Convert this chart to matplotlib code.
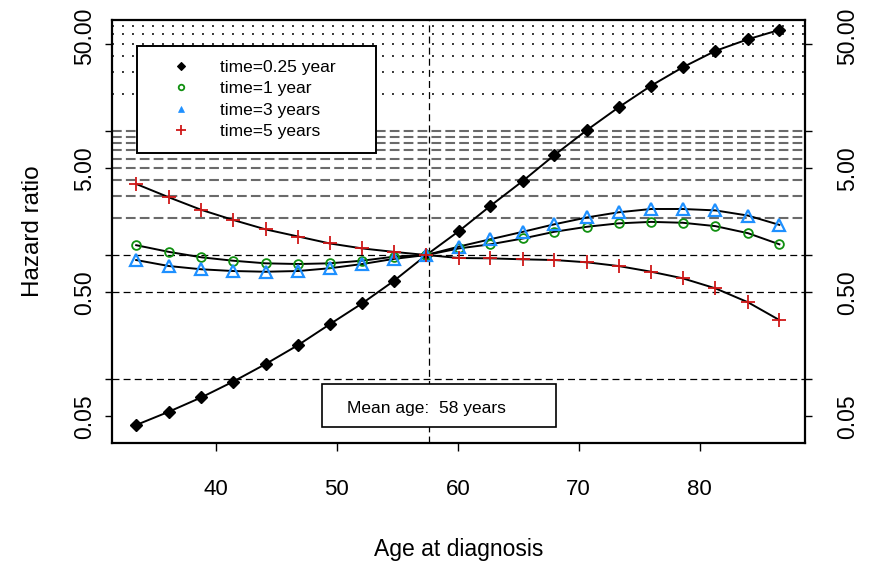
import matplotlib
matplotlib.use("Agg")
import matplotlib.pyplot as plt
from matplotlib.lines import Line2D
from matplotlib.patches import Rectangle
from matplotlib.transforms import blended_transform_factory, ScaledTranslation

plt.rcParams["font.family"] = ["Liberation Sans", "DejaVu Sans"]
plt.rcParams["lines.scale_dashes"] = False

# ── Data ───────────────────────────────────────────────────────────────────────
ages = [33.4, 36.1, 38.8, 41.4, 44.1, 46.8, 49.4, 52.1, 54.7, 57.4, 60.1,
        62.7, 65.4, 68.0, 70.7, 73.3, 76.0, 78.6, 81.3, 84.0, 86.6]

hr_025 = [0.0426, 0.0545, 0.0712, 0.0951, 0.132, 0.188, 0.276, 0.408, 0.617, 1.0,
          1.56, 2.49, 3.97, 6.40, 10.2, 15.5, 23.2, 32.6, 44.2, 54.9, 65.3]
hr_1 = [1.20, 1.06, 0.958, 0.900, 0.857, 0.846, 0.857, 0.900, 0.969, 1.0,
        1.13, 1.22, 1.36, 1.54, 1.69, 1.80, 1.85, 1.82, 1.71, 1.50, 1.22]
hr_3 = [0.911, 0.815, 0.767, 0.743, 0.733, 0.743, 0.782, 0.846, 0.93, 1.0,
        1.17, 1.34, 1.54, 1.77, 2.01, 2.21, 2.35, 2.35, 2.29, 2.08, 1.75]
hr_5 = [3.74, 2.92, 2.31, 1.92, 1.61, 1.41, 1.24, 1.13, 1.06, 1.0,
        0.946, 0.940, 0.923, 0.911, 0.873, 0.815, 0.733, 0.649, 0.539, 0.416, 0.299]

series_labels = ["time=0.25 year", "time=1 year", "time=3 years", "time=5 years"]
mean_age = 57.6
mean_text = "Mean age:  58 years"

dotted_levels = [20, 30, 40, 50, 60, 70]
grey_levels = [2, 3, 4, 5, 6, 7, 8, 9, 10]
black_levels = [0.1, 0.5, 1]

x_ticks = [40, 50, 60, 70, 80]
y_ticks = [0.05, 0.1, 0.5, 1, 5, 10, 50]
y_label_vals = [0.05, 0.5, 5, 50]
y_label_txt = ["0.05", "0.50", "5.00", "50.00"]

# ── Styles ─────────────────────────────────────────────────────────────────────
GREEN = "#109010"
BLUE = "#1E90FF"
RED = "#D01818"
styles = [
    dict(marker="D", ms=6.3, mfc="black", mec="black", mew=1.0),
    dict(marker="o", ms=6.3, mfc="none", mec=GREEN, mew=1.3),
    dict(marker="^", ms=8.0, mfc="none", mec=BLUE, mew=1.6),
    dict(marker="+", ms=10, mfc="none", mec=RED, mew=1.3),
]
legend_styles = [
    dict(marker="D", ms=4.3, mfc="black", mec="black", mew=0.8),
    dict(marker="o", ms=4.0, mfc="none", mec=GREEN, mew=1.3),
    dict(marker="^", ms=5.0, mfc=BLUE, mec=BLUE, mew=0.5),
    dict(marker="+", ms=7.0, mfc="none", mec=RED, mew=1.3),
]

# ── Figure ─────────────────────────────────────────────────────────────────────
fig = plt.figure(figsize=(8.7, 5.64), dpi=100)
ax = fig.add_axes([112 / 870, 1 - 443 / 564, 693 / 870, 423 / 564])
ax.set_yscale("log")
ax.set_xlim(31.40, 88.72)
ax.set_ylim(0.0305, 78.5)

# reference lines
for v in dotted_levels:
    ax.axhline(v, color="#333333", lw=1.4, dashes=(1.4, 5.8), zorder=1)
for v in grey_levels:
    ax.axhline(v, color="#6a6a6a", lw=1.5, dashes=(7, 3), zorder=1)
for v in black_levels:
    ax.axhline(v, color="black", lw=0.9, dashes=(5, 3), zorder=1)
ax.axvline(mean_age, color="black", lw=0.9, dashes=(5, 3), zorder=1)

# curves
for hr, st in zip([hr_025, hr_1, hr_3, hr_5], styles):
    ax.plot(ages, hr, color="black", lw=1.4, zorder=3)
    ax.plot(ages, hr, ls="none", zorder=4, **st)

# axes and ticks
for sp in ax.spines.values():
    sp.set_linewidth(1.6)
ax.set_xticks(x_ticks)
ax.set_xticklabels([str(t) for t in x_ticks])
ax.set_yticks(y_ticks)
ax.set_yticks([], minor=True)
ax.set_yticklabels([])
ax.tick_params(axis="x", direction="out", length=6, width=1, pad=20, labelsize=16)
ax.tick_params(axis="y", direction="out", length=5, width=1,
               left=True, right=True, labelleft=False)

trans_l = blended_transform_factory(ax.transAxes, ax.transData)
for v, t in zip(y_label_vals, y_label_txt):
    shift = ScaledTranslation(0, 0.08 if v == 50 else 0, fig.dpi_scale_trans)
    ax.text(-0.040, v, t, transform=trans_l + shift, rotation=90,
            ha="center", va="center", fontsize=16.5)
    ax.text(1.061, v, t, transform=trans_l + shift, rotation=90,
            ha="center", va="center", fontsize=16.5)

ax.set_xlabel("Age at diagnosis", fontsize=16.5, labelpad=27)
ax.set_ylabel("Hazard ratio", fontsize=17.5)
ax.yaxis.set_label_coords(-0.098, 0.5)

# legend
handles = [Line2D([], [], ls="none", **st) for st in legend_styles]
leg = ax.legend(handles, series_labels, loc="upper left",
                bbox_to_anchor=(0.036, 0.0, 0.345, 0.9385), mode="expand",
                borderaxespad=0, fontsize=12.5, borderpad=0.8, labelspacing=0.36,
                handlelength=3.5, handletextpad=0.5, fancybox=False,
                edgecolor="black", framealpha=1)
leg.get_frame().set_linewidth(1.4)
leg.set_zorder(6)

# mean age box
ax.add_patch(Rectangle((0.3026, 0.0371), 0.3381, 0.1017, transform=ax.transAxes,
                       facecolor="white", edgecolor="black", lw=1.2, zorder=6))
ax.text(0.3388, 0.0716, mean_text, transform=ax.transAxes, fontsize=12.5,
        ha="left", va="baseline", zorder=7)

fig.savefig("out.png", dpi=100)
